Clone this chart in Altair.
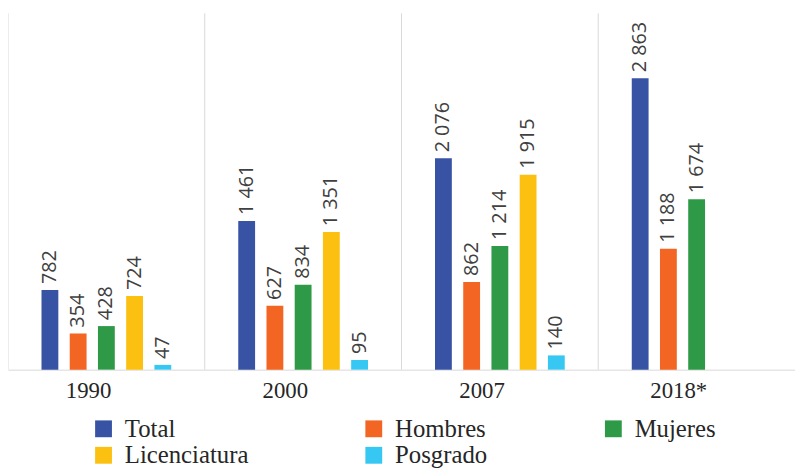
import altair as alt
import pandas as pd

years = ["1990", "2000", "2007", "2018*"]
series = ["Total", "Hombres", "Mujeres", "Licenciatura", "Posgrado"]
total = [782, 1461, 2076, 2863]
hombres = [354, 627, 862, 1188]
mujeres = [428, 834, 1214, 1674]
licenciatura = [724, 1351, 1915, None]
posgrado = [47, 95, 140, None]
colors = ["#3953A4", "#F26522", "#2E9A47", "#FCC010", "#36C8F2"]

rows = []
for name, vals in zip(series, [total, hombres, mujeres, licenciatura, posgrado]):
    for y, v in zip(years, vals):
        if v is None:
            continue
        rows.append({"year": y, "series": name, "value": v,
                     "label": f"{v:,}".replace(",", " ")})
df = pd.DataFrame(rows)
years_df = pd.DataFrame({"year": years})

x_scale = alt.Scale(domain=years, paddingInner=0, paddingOuter=0)
y_scale = alt.Scale(domain=[0, 3500])
xoff = alt.XOffset("series:N", sort=series,
                   scale=alt.Scale(domain=series, paddingInner=0.03, paddingOuter=1))

grid = alt.Chart(years_df).mark_rule(color="#d9d9d9", strokeWidth=1).encode(
    x=alt.X("year:N", bandPosition=0, scale=x_scale, sort=years,
            axis=alt.Axis(title=None, labelAngle=0, ticks=False, grid=False,
                          domainColor="#d9d9d9", labelFont="Liberation Serif",
                          labelFontSize=23, labelColor="#262626", labelPadding=10,
                          labelOffset=-18)),
    y=alt.value(0),
    y2=alt.value(360),
)

bars = alt.Chart(df).mark_bar(width=17).encode(
    x=alt.X("year:N", scale=x_scale, sort=years),
    xOffset=xoff,
    y=alt.Y("value:Q", scale=y_scale, axis=None),
    color=alt.Color("series:N", scale=alt.Scale(domain=series, range=colors),
                    legend=alt.Legend(title=None, orient="none", legendX=84, legendY=407,
                                      direction="horizontal", columns=3,
                                      symbolType="square", symbolSize=289,
                                      symbolStrokeWidth=0, labelFont="Liberation Serif",
                                      labelFontSize=25, labelColor="#262626",
                                      labelOffset=9, columnPadding=114, rowPadding=1,
                                      padding=0)),
)

labels = alt.Chart(df).mark_text(angle=270, align="left", baseline="middle", dx=6,
                                 font="Open Sans", fontSize=20, color="#404040").encode(
    x=alt.X("year:N", scale=x_scale, sort=years),
    xOffset=xoff,
    y=alt.Y("value:Q", scale=y_scale),
    text="label:N",
)

chart = alt.layer(grid, bars, labels).properties(
    width=795, height=360,
    autosize=alt.AutoSizeParams(type="none"),
    padding={"left": 0, "top": 3, "right": 0, "bottom": 97},
).configure_view(stroke=None)

chart.save("out.html", embed_options={"renderer": "svg", "actions": False})
